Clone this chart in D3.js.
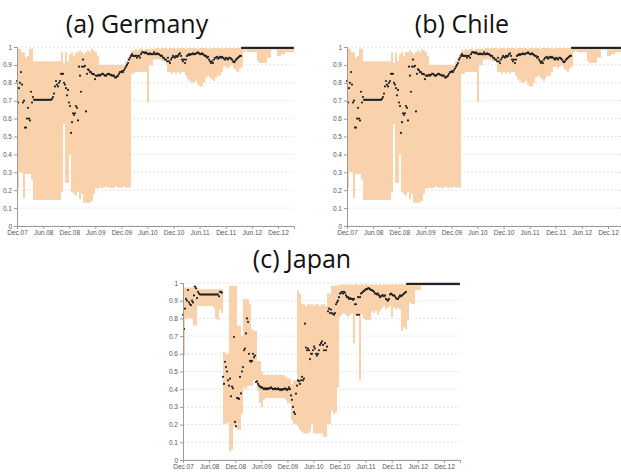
<!DOCTYPE html>
<html>
<head>
<meta charset="utf-8">
<script src="https://cdn.jsdelivr.net/npm/d3@7"></script>
<style>
  body { margin: 0; background: #fff; }
  svg { display: block; }
  .title { font-family: "Open Sans", sans-serif; font-size: 25px; fill: #111; text-anchor: middle; }
  .axis text { font-family: "Liberation Sans", Arial, sans-serif; font-size: 6.5px; fill: #555; }
  .axis path, .axis line { stroke: #9a9a9a; }
</style>
</head>
<body>
<svg id="chart" width="621" height="472"></svg>
<script>
// weekly point estimates, first week = Dec 2007
const gerDots = [
  0.81,0.69,0.77,0.80,0.86,0.79,0.69,0.70,0.55,0.55,
  0.60,0.66,0.60,0.59,0.75,0.69,0.72,
  0.705,0.705,0.705,0.705,0.705,0.705,0.705,0.705,0.705,0.705,0.705,0.705,0.705,0.705,0.705,0.705,0.705,0.705,
  0.71,0.72,0.74,0.78,0.81,0.79,0.78,0.80,0.81,0.85,
  0.85,0.85,0.80,0.79,0.77,0.73,0.76,0.69,0.67,0.52,
  0.58,0.63,0.62,0.63,0.67,0.66,0.59,0.89,0.84,0.75,
  0.89,0.93,0.89,0.895,0.64,0.85,0.875,0.87,0.86,0.86,
  0.85,0.85,0.847,0.82,0.84,
  0.84,0.84,0.845,0.84,0.845,0.85,0.85,0.845,0.84,0.84,
  0.845,0.85,0.85,0.845,0.845,0.84,0.84,0.84,0.83,0.83,
  0.835,0.84,0.85,0.86,0.86,0.865,0.86,0.87,0.88,0.89,
  0.90,0.91,0.93,0.94,0.95,0.96,0.95,0.95,0.95,0.95,
  0.94,0.95,0.95,0.94,0.96,0.97,0.97,0.97,0.965,0.97,
  0.965,0.96,0.96,0.965,0.96,0.96,0.96,0.97,0.96,0.96,0.965,
  0.96,0.96,0.955,0.95,0.95,0.94,0.94,0.93,0.93,0.92,
  0.94,0.92,0.91,0.93,0.94,0.95,0.945,0.94,0.95,0.945,
  0.95,0.96,0.965,0.95,0.93,0.92,0.93,0.91,0.93,0.95,
  0.955,0.96,0.955,0.96,0.96,0.965,0.96,0.96,0.965,0.965,
  0.97,0.965,0.96,0.96,0.965,0.96,0.955,0.95,0.95,0.94,
  0.945,0.93,0.92,0.91,0.92,0.91,0.93,0.94,0.94,0.945,
  0.935,0.94,0.945,0.94,0.945,0.94,0.935,0.93,0.94,0.935,
  0.93,0.94,0.94,0.935,0.93,0.92,0.915,0.92,0.93,0.935,0.94,0.945,0.95,0.95,
  0.995,0.995,0.995,0.995,0.995,0.995,0.995,0.995,0.995,0.995,0.995,0.995,0.995,
  0.995,0.995,0.995,0.995,0.995,0.995,0.995,0.995,0.995,0.995,0.995,0.995,0.995,
  0.995,0.995,0.995,0.995,0.995,0.995,0.995,0.995,0.995,0.995,0.995,0.995,0.995,
  0.995,0.995,0.995,0.995,0.995,0.995,0.995,0.995,0.995,0.995,0.995,0.995,0.995
];

// band edges, one value every two weeks
const gerHigh = [
  0.99,0.99,0.97,0.97,0.94,0.95,0.99,0.99,
  0.92,0.92,0.92,0.92,0.92,0.92,0.92,0.92,0.92,0.92,0.92,0.92,0.92,0.92,
  0.97,0.91,0.97,0.92,0.96,0.97,0.95,0.97,0.97,0.98,0.97,0.96,0.97,0.98,0.97,0.99,0.98,0.97,0.95,
  0.90,0.90,0.90,0.90,0.90,0.90,0.90,0.90,0.90,0.90,0.90,0.90,0.90,
  0.92,0.94,0.96,0.98,
  0.98,0.99,0.98,0.99,0.99,0.98,0.99,0.99,0.99,0.99,
  0.99,0.995,0.995,0.99,0.995,0.995,0.995,0.99,0.995,0.995,
  0.995,0.99,0.995,0.995,0.995,0.995,0.99,0.995,0.995,0.995,
  0.995,0.995,0.99,0.995,0.995,0.995,0.995,0.995,0.99,0.995,
  0.995,0.995,0.995,0.995,0.995,0.99,0.995,0.995,0.995,0.995,
  0.995,0.995,0.995,0.995,0.995,1,1,1,1,1,
  1,1,1,1,1,1,1,1,1,1,
  1,1,1,1,1,1,1,1,1,1,1
];
const gerLow = [
  0.21,0.30,0.30,0.155,0.29,0.29,0.29,0.26,
  0.145,0.145,0.145,0.145,0.145,0.145,0.145,0.145,0.145,0.145,0.145,0.145,0.145,0.145,
  0.19,0.57,0.24,0.24,0.40,0.19,0.18,0.17,0.19,0.15,0.18,0.13,0.13,0.13,0.13,0.14,0.18,0.21,0.21,
  0.215,0.21,0.215,0.22,0.215,0.215,0.21,0.215,0.22,0.215,0.215,0.215,0.22,0.215,0.215,0.215,
  0.85,0.85,0.86,0.86,0.86,0.86,0.86,0.86,0.69,0.90,0.90,
  0.93,0.93,0.93,0.93,0.92,0.92,0.93,0.86,0.86,0.85,
  0.86,0.85,0.86,0.85,0.86,0.86,0.84,0.82,0.81,0.80,
  0.80,0.81,0.79,0.78,0.78,0.80,0.83,0.84,0.83,0.82,
  0.81,0.83,0.84,0.84,0.86,0.89,0.89,0.88,0.89,0.90,
  0.88,0.87,0.86,0.88,0.89,
  0.97,0.98,0.97,0.97,0.97,0.97,0.97,0.92,0.91,0.91,
  0.91,0.91,0.94,0.94,0.985,0.985,0.985,0.95,0.95,0.96,
  0.96,0.97,0.97,0.97,0.97,0.97
];

// Chile panel reads the same as Germany in the source figure
const chlDots = gerDots;
const chlHigh = gerHigh;
const chlLow = gerLow;

const jpnDots = [
  0.82,0.74,0.855,0.91,0.90,0.96,0.89,0.88,0.875,0.90,
  0.89,0.93,0.98,0.97,0.915,0.95,0.94,
  0.935,0.935,0.935,0.935,0.935,0.935,0.935,0.935,0.935,0.935,0.935,0.935,0.935,0.935,0.935,0.935,0.935,0.935,0.935,
  0.925,0.95,0.95,0.945,
  0.47,0.43,0.555,0.525,0.50,0.45,0.42,0.46,0.36,0.415,
  0.405,0.695,0.215,0.19,0.35,0.35,0.345,0.47,0.376,0.50,
  0.525,0.62,0.63,0.715,0.80,0.78,0.60,0.56,0.555,0.56,
  0.60,0.58,0.59,0.44,0.445,0.43,0.42,0.415,0.41,0.41,
  0.405,0.40,0.405,
  0.40,0.405,0.40,0.405,0.405,0.41,0.405,0.40,0.40,0.405,
  0.40,0.40,0.405,0.40,0.395,0.40,0.395,0.40,0.40,0.405,
  0.40,0.395,0.40,0.41,0.40,0.365,0.34,0.30,0.27,0.26,
  0.375,0.42,0.45,0.445,0.43,0.45,0.47,0.45,0.46,0.77,
  0.635,0.62,0.63,0.62,0.57,0.60,0.60,0.62,0.64,0.63,
  0.60,0.59,0.60,0.62,0.65,0.66,0.67,0.65,0.62,0.66,
  0.62,0.64,0.84,0.855,0.83,0.85,0.83,0.825,0.82,0.83,
  0.88,0.89,0.90,0.92,0.94,0.945,0.95,0.94,0.95,0.945,
  0.93,0.92,0.92,0.91,0.915,0.91,0.91,0.905,0.91,0.88,
  0.88,0.82,0.92,0.82,0.92,0.94,0.945,0.95,0.955,0.96,
  0.965,0.965,0.97,0.97,0.965,0.96,0.96,0.955,0.95,0.94,
  0.94,0.935,0.94,0.93,0.92,0.925,0.93,0.93,0.925,0.93,
  0.91,0.905,0.90,0.91,0.935,0.94,0.935,0.93,0.93,0.925,
  0.915,0.91,0.91,0.92,0.93,0.925,0.93,0.935,0.94,0.945,0.95,
  0.995,0.995,0.995,0.995,0.995,0.995,0.995,0.995,0.995,0.995,0.995,0.995,0.995,
  0.995,0.995,0.995,0.995,0.995,0.995,0.995,0.995,0.995,0.995,0.995,0.995,0.995,
  0.995,0.995,0.995,0.995,0.995,0.995,0.995,0.995,0.995,0.995,0.995,0.995,0.995,
  0.995,0.995,0.995,0.995,0.995,0.995,0.995,0.995,0.995,0.995,0.995,0.995,0.995,0.995
];
const jpnHigh = [
  0.97,0.975,0.975,0.975,0.975,0.985,0.985,0.97,
  0.965,0.965,0.965,0.965,0.965,0.965,0.965,0.965,0.965,0.965,0.965,0.965,
  0.61,0.60,0.60,0.985,0.985,0.985,0.985,0.76,0.76,0.70,
  0.91,0.91,0.91,0.88,0.74,0.73,0.73,0.56,0.56,0.50,0.48,
  0.48,0.48,0.48,0.48,0.48,0.48,0.48,0.48,0.48,0.48,
  0.47,0.46,0.46,0.43,0.45,0.45,
  0.96,0.94,0.88,0.88,0.87,0.88,0.88,0.88,0.87,0.88,0.88,0.87,0.88,0.88,0.87,
  0.94,0.94,0.985,0.985,0.985,0.99,
  0.99,0.99,0.995,0.99,0.99,0.995,0.99,0.99,0.995,0.99,
  0.99,0.995,0.99,0.995,0.99,0.99,0.995,0.99,0.995,0.99,
  0.995,0.99,0.99,0.995,0.99,0.995,0.99,0.995,0.995,0.99,
  0.995,0.995,0.99,0.995,0.995,0.995,1,1,1,1,
  1,1,1,1,1,1,1,1,1,1,
  1,1,1,1,1,1,1,1,1,1,1
];
const jpnLow = [
  0.59,0.80,0.80,0.80,0.80,0.76,0.76,0.87,
  0.87,0.87,0.87,0.87,0.87,0.87,0.87,0.86,0.80,0.79,0.85,0.83,
  0.205,0.205,0.21,0.05,0.06,0.19,0.19,0.17,0.17,0.26,
  0.41,0.40,0.42,0.42,0.42,0.45,0.45,0.39,0.32,0.30,0.34,
  0.35,0.35,0.35,0.35,0.35,0.35,0.35,0.35,0.35,0.35,
  0.34,0.32,0.32,0.225,0.205,0.205,
  0.19,0.17,0.16,0.15,0.15,0.15,0.16,0.205,0.15,0.15,0.15,0.15,0.15,0.13,0.13,
  0.205,0.205,0.28,0.26,0.27,0.41,
  0.81,0.82,0.83,0.82,0.81,0.82,0.83,0.66,0.82,0.82,
  0.45,0.82,0.80,0.79,0.79,0.79,0.84,0.83,0.845,0.82,
  0.84,0.86,0.87,0.85,0.86,0.87,0.81,0.86,0.85,0.86,
  0.85,0.73,0.75,0.74,0.79,0.89,0.88,0.88,0.96,0.96,0.96,
  0.985,0.985,0.985,0.985,0.985,0.985,0.985,0.985,0.985,0.985,
  0.985,0.985,0.985,0.985,0.985,0.985,0.985,0.985,0.985,0.985
];

const yTicks = [0, 0.1, 0.2, 0.3, 0.4, 0.5, 0.6, 0.7, 0.8, 0.9, 1];
const tickDates = [
  new Date(2007, 11, 1), new Date(2008, 5, 1), new Date(2008, 11, 1), new Date(2009, 5, 1),
  new Date(2009, 11, 1), new Date(2010, 5, 1), new Date(2010, 11, 1), new Date(2011, 5, 1),
  new Date(2011, 11, 1), new Date(2012, 5, 1), new Date(2012, 11, 1)
];

const startDate = new Date(2007, 11, 1);
const endDate = d3.timeDay.offset(startDate, 277 * 7);
const plotW = 277;

const svg = d3.select('#chart');

const drawPanel = (cfg) => {
  const g = svg.append('g').attr('transform', `translate(${cfg.left},${cfg.top})`);

  const x = d3.scaleTime().domain([startDate, endDate]).range([0, plotW]);
  const y = d3.scaleLinear().domain([0, 1]).range([cfg.height, 0]);

  g.append('g')
    .selectAll('line')
    .data(yTicks)
    .join('line')
    .attr('x1', 0)
    .attr('x2', plotW)
    .attr('y1', d => y(d))
    .attr('y2', d => y(d))
    .attr('stroke', '#e2e2e2')
    .attr('stroke-dasharray', '2,2');

  const band = cfg.low.map((lo, i) => ({
    date: d3.timeDay.offset(startDate, i * 14),
    lo: lo,
    hi: cfg.high[i]
  }));
  band.push({ date: endDate, lo: band[band.length - 1].lo, hi: band[band.length - 1].hi });

  const area = d3
    .area()
    .curve(d3.curveStepAfter)
    .x(d => x(d.date))
    .y0(d => y(d.lo))
    .y1(d => y(d.hi));

  g.append('path').datum(band).attr('fill', '#f9d2ac').attr('d', area);

  g.append('g')
    .selectAll('circle')
    .data(cfg.dots)
    .join('circle')
    .attr('cx', (d, i) => x(d3.timeDay.offset(startDate, i * 7)))
    .attr('cy', d => y(d))
    .attr('r', 1.1)
    .attr('fill', '#1e2326');

  g.append('g')
    .attr('class', 'axis')
    .call(d3.axisLeft(y).tickValues(yTicks).tickSize(3).tickPadding(2)
      .tickFormat(d => (d === 0 || d === 1) ? String(d) : d.toFixed(1)));

  g.append('g')
    .attr('class', 'axis')
    .attr('transform', `translate(0,${cfg.height})`)
    .call(d3.axisBottom(x).tickValues(tickDates).tickSize(3).tickPadding(1)
      .tickFormat(d3.timeFormat('%b.%y')));

  svg.append('text')
    .attr('class', 'title')
    .attr('x', cfg.titleX)
    .attr('y', cfg.titleY)
    .text(cfg.title);
};

drawPanel({ title: '(a) Germany', titleX: 137, titleY: 33, left: 17, top: 47, height: 179,
  dots: gerDots, high: gerHigh, low: gerLow });
drawPanel({ title: '(b) Chile', titleX: 462, titleY: 33, left: 347, top: 47, height: 179,
  dots: chlDots, high: chlHigh, low: chlLow });
drawPanel({ title: '(c) Japan', titleX: 302, titleY: 268, left: 183, top: 283, height: 177,
  dots: jpnDots, high: jpnHigh, low: jpnLow });
</script>
</body>
</html>
